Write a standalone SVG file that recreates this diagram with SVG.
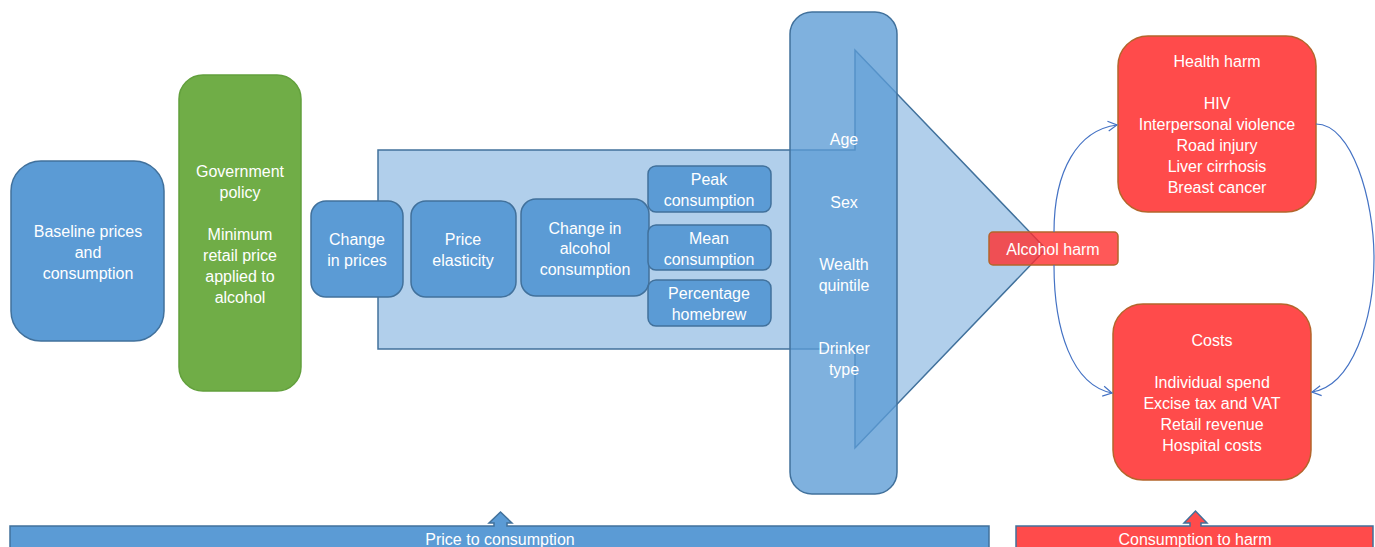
<svg xmlns="http://www.w3.org/2000/svg" width="1375" height="547" viewBox="0 0 1375 547">
<defs>
<style>
.t{font-family:"Liberation Sans",Arial,sans-serif;font-size:16px;fill:#ffffff;text-anchor:middle}
.bb{fill:#5b9bd5;stroke:#41719c;stroke-width:1.5}
.rb{fill:#ff4b4b;stroke:#b4652b;stroke-width:1.5}
.cn{fill:none;stroke:#4472c4;stroke-width:1.2}
</style>
<marker id="ah" markerWidth="12" markerHeight="12" refX="10" refY="6" orient="auto" markerUnits="userSpaceOnUse">
<path d="M1,1 L10,6 L1,11" fill="none" stroke="#4472c4" stroke-width="1.2"/>
</marker>
</defs>
<rect width="1375" height="547" fill="#ffffff"/>

<g id="baseline">
<rect class="bb" x="11" y="161" width="153" height="180" rx="30"/>
<text class="t" x="88" y="237">Baseline prices</text>
<text class="t" x="88" y="258">and</text>
<text class="t" x="88" y="279">consumption</text>
</g>

<g id="policy">
<rect x="179" y="75" width="122" height="316" rx="24" fill="#70ad47" stroke="#62a03c" stroke-width="1.5"/>
<text class="t" x="240" y="177">Government</text>
<text class="t" x="240" y="198">policy</text>
<text class="t" x="240" y="240">Minimum</text>
<text class="t" x="240" y="261">retail price</text>
<text class="t" x="240" y="282">applied to</text>
<text class="t" x="240" y="303">alcohol</text>
</g>

<g id="flow-arrow">
<path d="M378,150 L855,150 L855,50 L1046,249 L855,448 L855,349 L378,349 Z" fill="#9dc3e6" fill-opacity="0.8" stroke="#41719c" stroke-width="1.5"/>
</g>

<g id="change-prices">
<rect class="bb" x="311" y="201" width="92" height="96" rx="15"/>
<text class="t" x="357" y="245">Change</text>
<text class="t" x="357" y="266">in prices</text>
</g>

<g id="elasticity">
<rect class="bb" x="411" y="201" width="105" height="96" rx="15"/>
<text class="t" x="463" y="245">Price</text>
<text class="t" x="463" y="266">elasticity</text>
</g>

<g id="change-consumption">
<rect class="bb" x="521" y="199" width="128" height="97" rx="15"/>
<text class="t" x="585" y="234">Change in</text>
<text class="t" x="585" y="254">alcohol</text>
<text class="t" x="585" y="275">consumption</text>
</g>

<g id="peak">
<rect class="bb" x="648" y="166" width="123" height="46" rx="8"/>
<text class="t" x="709" y="185">Peak</text>
<text class="t" x="709" y="206">consumption</text>
</g>

<g id="mean">
<rect class="bb" x="648" y="225" width="123" height="45" rx="8"/>
<text class="t" x="709" y="244">Mean</text>
<text class="t" x="709" y="265">consumption</text>
</g>

<g id="homebrew">
<rect class="bb" x="648" y="280" width="123" height="46" rx="8"/>
<text class="t" x="709" y="299">Percentage</text>
<text class="t" x="709" y="320">homebrew</text>
</g>

<g id="population">
<rect x="790" y="12" width="107" height="482" rx="22" fill="#5b9bd5" fill-opacity="0.78" stroke="#41719c" stroke-width="1.5"/>
<text class="t" x="844" y="145">Age</text>
<text class="t" x="844" y="208">Sex</text>
<text class="t" x="844" y="270">Wealth</text>
<text class="t" x="844" y="291">quintile</text>
<text class="t" x="844" y="354">Drinker</text>
<text class="t" x="844" y="375">type</text>
</g>

<g id="alcohol-harm">
<rect x="989" y="232" width="129" height="33" rx="4" fill="#ff2e2e" fill-opacity="0.8" stroke="#b4652b" stroke-width="1.5"/>
<text class="t" x="1053" y="255">Alcohol harm</text>
</g>

<g id="health-harm">
<rect class="rb" x="1118" y="36" width="198" height="176" rx="30"/>
<text class="t" x="1217" y="67">Health harm</text>
<text class="t" x="1217" y="109">HIV</text>
<text class="t" x="1217" y="130">Interpersonal violence</text>
<text class="t" x="1217" y="151">Road injury</text>
<text class="t" x="1217" y="172">Liver cirrhosis</text>
<text class="t" x="1217" y="193">Breast cancer</text>
</g>

<g id="costs">
<rect class="rb" x="1113" y="304" width="198" height="176" rx="30"/>
<text class="t" x="1212" y="346">Costs</text>
<text class="t" x="1212" y="388">Individual spend</text>
<text class="t" x="1212" y="409">Excise tax and VAT</text>
<text class="t" x="1212" y="430">Retail revenue</text>
<text class="t" x="1212" y="451">Hospital costs</text>
</g>

<g id="connectors">
<path class="cn" d="M1054,232 C1054,170 1078,130 1117,125" marker-end="url(#ah)"/>
<path class="cn" d="M1054,265 C1054,330 1072,385 1112,393" marker-end="url(#ah)"/>
<path class="cn" d="M1316,124 C1352,124 1374,200 1374,258 C1374,320 1352,386 1312,392" marker-end="url(#ah)"/>
</g>

<g id="price-to-consumption">
<path d="M10,526 L494,526 L494,523 L489,523 L500.5,512 L512,523 L507,523 L507,526 L989,526 L989,560 L10,560 Z" fill="#5b9bd5" stroke="#41719c" stroke-width="1.5"/>
<text class="t" x="500" y="545">Price to consumption</text>
</g>

<g id="consumption-to-harm">
<path d="M1016,526 L1190,526 L1190,523 L1184,523 L1195.5,511 L1207,523 L1201,523 L1201,526 L1373,526 L1373,560 L1016,560 Z" fill="#ff4b4b" stroke="#41719c" stroke-width="1.5"/>
<text class="t" x="1195" y="545">Consumption to harm</text>
</g>
</svg>
